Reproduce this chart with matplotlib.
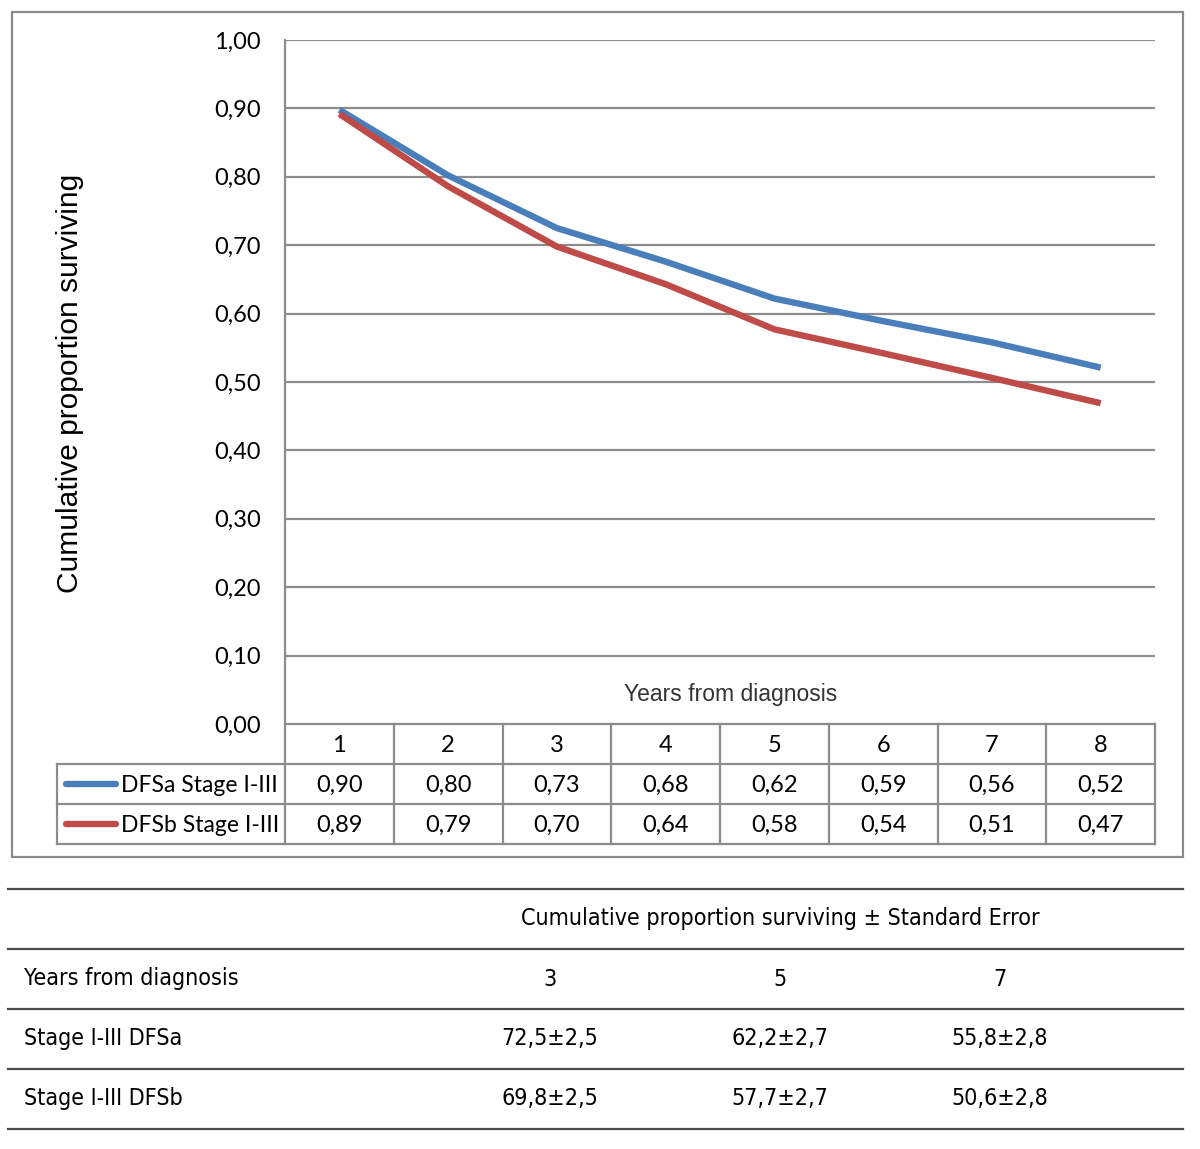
import matplotlib
matplotlib.use("Agg")
import matplotlib.pyplot as plt
from matplotlib import font_manager as fm

# ---------------- data ----------------
years = [1, 2, 3, 4, 5, 6, 7, 8]
dfsa = [0.898, 0.802, 0.725, 0.676, 0.622, 0.589, 0.558, 0.521]
dfsb = [0.892, 0.786, 0.698, 0.643, 0.577, 0.542, 0.506, 0.469]
series_names = ["DFSa Stage I-III", "DFSb Stage I-III"]
y_ticks = [0.0, 0.1, 0.2, 0.3, 0.4, 0.5, 0.6, 0.7, 0.8, 0.9, 1.0]

tbl_years = [3, 5, 7]
tbl_rows = ["Stage I-III DFSa", "Stage I-III DFSb"]
tbl_a = [72.5, 62.2, 55.8]
tbl_b = [69.8, 57.7, 50.6]
tbl_se = [2.5, 2.7, 2.8]

BLUE = "#4a7ebb"
RED = "#be4b48"
GRID = "#8c8c8c"

names = {f.name for f in fm.fontManager.ttflist}
chart_font = "Lato" if "Lato" in names else "DejaVu Sans"
arial = "Liberation Sans" if "Liberation Sans" in names else "DejaVu Sans"
narrow_kw = None
if "Liberation Sans Narrow" in names:
    narrow_kw = dict(family="Liberation Sans Narrow", fontsize=19)
else:
    cond = [f for f in fm.fontManager.ttflist
            if f.name == "DejaVu Sans" and str(f.stretch) in ("condensed", "semi-condensed")
            and f.weight in (400, "normal") and f.style == "normal"]
    if cond:
        narrow_kw = dict(family="DejaVu Sans", fontstretch="condensed", fontsize=16.7)
if narrow_kw is None:
    narrow_kw = dict(family=arial, fontsize=17)

W, H = 1200, 1149
fig = plt.figure(figsize=(W / 100, H / 100), dpi=100)

# overlay axes in pixel coordinates for frame & tables
ov = fig.add_axes([0, 0, 1, 1], zorder=0)
ov.set_xlim(0, W)
ov.set_ylim(H, 0)
ov.axis("off")

# chart axes
L, R, T, B = 285, 1155, 40, 724
ax = fig.add_axes([L / W, 1 - B / H, (R - L) / W, (B - T) / H], zorder=2)
ax.patch.set_alpha(0)
ax.set_xlim(0.5, 8.5)
ax.set_ylim(0, 1)
for s in ax.spines.values():
    s.set_visible(False)
ax.set_xticks([])
ax.set_yticks(y_ticks)
ax.set_yticklabels([f"{v:.2f}".replace(".", ",") for v in y_ticks],
                   fontsize=17, family=chart_font)
ax.tick_params(axis="y", length=0, pad=17.5)
for v in y_ticks[1:]:
    ax.axhline(v, color=GRID, lw=1.6, zorder=1)
ax.plot(years, dfsa, color=BLUE, lw=4.6, solid_capstyle="butt", zorder=3)
ax.plot(years, dfsb, color=RED, lw=4.6, solid_capstyle="butt", zorder=3)

# outer frame
ov.add_patch(plt.Rectangle((12, 12), 1171, 845, fill=False, ec="#8a8a8a", lw=1.6))

# y axis label
ov.text(70, 383, "Cumulative proportion surviving", rotation=90, ha="center",
        va="center", fontsize=21.5, family=arial, color="black")
ov.text(731, 694, "Years from diagnosis", ha="center", va="center",
        fontsize=16.5, family=arial, color="#333333")

# data table
colw = (R - L) / len(years)
r0, r1, r2, r3 = 724, 764, 804, 844
lg = dict(color=GRID, lw=1.6, zorder=4)
ov.plot([L, L], [T, r3], **lg)
ov.plot([L, R], [r0, r0], **lg)
ov.plot([57, R], [r1, r1], **lg)
ov.plot([57, R], [r2, r2], **lg)
ov.plot([57, R], [r3, r3], **lg)
ov.plot([57, 57], [r1, r3], **lg)
for k in range(1, len(years) + 1):
    x = L + k * colw
    ov.plot([x, x], [r0, r3], **lg)
for k, yr in enumerate(years):
    cx = L + (k + 0.5) * colw
    ov.text(cx, (r0 + r1) / 2 + 1, str(yr), ha="center", va="center",
            fontsize=17, family=chart_font)
    ov.text(cx, (r1 + r2) / 2 + 1, f"{dfsa[k] + 1e-9:.2f}".replace(".", ","),
            ha="center", va="center", fontsize=17, family=chart_font)
    ov.text(cx, (r2 + r3) / 2 + 1, f"{dfsb[k] + 1e-9:.2f}".replace(".", ","),
            ha="center", va="center", fontsize=17, family=chart_font)
for (ya, yb), nm, col in [((r1, r2), series_names[0], BLUE),
                          ((r2, r3), series_names[1], RED)]:
    cy = (ya + yb) / 2
    ov.plot([66, 116], [cy, cy], color=col, lw=4.6, solid_capstyle="round", zorder=5)
    ov.text(121, cy + 1, nm, ha="left", va="center", fontsize=16.5, family=chart_font)

# bottom table
hl = [889, 949, 1009, 1069, 1129]
for y in hl:
    ov.plot([8, 1183], [y, y], color="#4a4a4a", lw=1.6)
tx = [550, 780, 1000]
nf = dict(va="center", **narrow_kw)
ov.text(780, 919, "Cumulative proportion surviving \u00b1 Standard Error", ha="center", **nf)
ov.text(24, 979, "Years from diagnosis", ha="left", **nf)
for x, yr in zip(tx, tbl_years):
    ov.text(x, 979, str(yr), ha="center", **nf)
ov.text(24, 1039, tbl_rows[0], ha="left", **nf)
ov.text(24, 1099, tbl_rows[1], ha="left", **nf)
fmt = lambda v: f"{v:.1f}".replace(".", ",")
for x, a, b, se in zip(tx, tbl_a, tbl_b, tbl_se):
    ov.text(x, 1039, f"{fmt(a)}\u00b1{fmt(se)}", ha="center", **nf)
    ov.text(x, 1099, f"{fmt(b)}\u00b1{fmt(se)}", ha="center", **nf)

fig.savefig("out.png", dpi=100, facecolor="white")
